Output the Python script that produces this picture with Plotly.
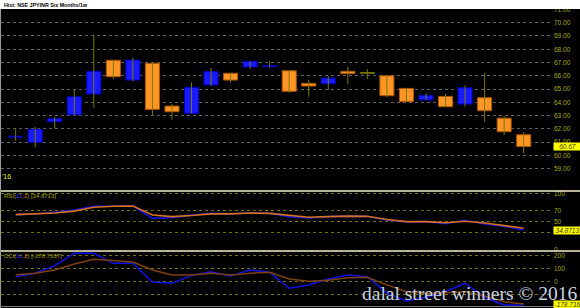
import plotly.graph_objects as go

# ---------------- data ----------------
idx = list(range(27))
opens = [61.38, 60.99, 62.54, 63.07, 64.63, 67.17, 65.68, 66.94, 63.72, 63.17, 65.31, 66.19, 66.66, 66.68,
         66.38, 65.43, 65.40, 66.34, 66.19, 66.00, 65.05, 64.18, 64.45, 63.87, 64.35, 62.81, 61.56]
highs = [62.07, 62.14, 62.89, 64.95, 69.05, 67.17, 67.36, 66.94, 63.87, 65.50, 66.59, 66.23, 67.09, 67.11,
         66.38, 65.68, 65.98, 66.68, 66.51, 66.00, 65.05, 64.65, 64.63, 65.28, 66.21, 62.97, 61.76]
lows = [61.10, 60.61, 62.04, 63.07, 63.60, 65.78, 65.60, 63.04, 62.69, 63.17, 65.25, 65.48, 66.53, 66.61,
        64.72, 64.42, 64.93, 65.38, 65.76, 64.40, 64.05, 64.18, 63.67, 63.67, 62.54, 61.54, 60.16]
closes = [61.45, 61.97, 62.77, 64.42, 66.34, 65.93, 67.19, 63.47, 63.29, 65.13, 66.31, 65.68, 67.09, 66.76,
          64.83, 65.23, 65.83, 66.16, 66.19, 64.50, 64.05, 64.53, 63.67, 65.10, 63.37, 61.79, 60.67]

rsi = [62.6, 63.8, 67, 71, 77.7, 77.7, 78.3, 56, 57, 62, 65, 64, 65.6, 65, 59, 56.6, 59, 60, 59.6,
       53, 49.4, 50, 46.3, 52.4, 45.8, 41.6, 34.87]
rsi_sig = [62.6, 63.8, 65.6, 69, 76, 77.7, 78.3, 62, 59, 61, 64, 64, 65.6, 65, 61, 58, 59, 60, 59.6,
           54, 50, 50, 48, 50.6, 47.5, 43.4, 38]
cci = [38, 65, 123, 218, 218, 141, 141, -3, -12, 48, 77, 44, 90, 72, -51, -25, 21, 52, 38,
       -90, -146, -120, -75, -12, -120, -179, -178.72]
cci_sig = [54, 65, 90, 136, 172, 159, 151, 90, 51, 51, 65, 51, 65, 72, 21, 3, 11, 30, 34,
           -25, -77, -90, -85, -77, -110, -154, -171]

price_ticks = [59, 60, 61, 62, 63, 64, 65, 66, 67, 68, 69, 70, 71]
rsi_ticks = [0, 30, 50, 70, 100]
rsi_labels = ["0", "", "50", "70", "100"]        # 30 is hidden behind the value box
cci_ticks = [-100, 0, 100, 200]
cci_labels = ["", "0", "100", "200"]             # -100 is hidden behind the watermark

title_text = "Hist: NSE JPYINR Six Months/1w"
watermark = "dalal street winners \u00a9 2016"

# ---------------- geometry helpers ----------------
W, H = 580, 308
ML, MR = 1, 27
PW = W - ML - MR


def py(p):
    return 1 - p / H


def px(p):
    return (p - ML) / PW


BLUE = "#1a1aff"
ORANGE = "#ff9526"
OLIVE = "#7a7a00"
LBL = "#a8a800"
FONT = "Liberation Sans, Arial, sans-serif"

body_base, body_h, body_col, body_line = [], [], [], []
for o, c in zip(opens, closes):
    body_base.append(min(o, c))
    body_h.append(max(abs(c - o), 0.05))
    if c > o:
        body_col.append(BLUE); body_line.append("#0000c0")
    elif c < o:
        body_col.append(ORANGE); body_line.append("#a85400")
    else:
        body_col.append(OLIVE); body_line.append(OLIVE)

wx, wy = [], []
for i, h, l in zip(idx, highs, lows):
    wx += [i, i, None]
    wy += [l, h, None]

fig = go.Figure()
fig.add_trace(go.Scatter(x=wx, y=wy, mode="lines", line=dict(color=OLIVE, width=1),
                         hoverinfo="skip", xaxis="x", yaxis="y"))
fig.add_trace(go.Bar(x=idx, y=body_h, base=body_base, width=0.72,
                     marker=dict(color=body_col, line=dict(color=body_line, width=1)),
                     xaxis="x", yaxis="y"))
fig.add_trace(go.Scatter(x=idx, y=rsi, mode="lines", line=dict(color="#1010e8", width=1.6),
                         xaxis="x", yaxis="y2"))
fig.add_trace(go.Scatter(x=idx, y=rsi_sig, mode="lines", line=dict(color="#d8701c", width=1.6),
                         xaxis="x", yaxis="y2"))
fig.add_trace(go.Scatter(x=idx, y=cci, mode="lines", line=dict(color="#1010e8", width=1.5),
                         xaxis="x", yaxis="y3"))
fig.add_trace(go.Scatter(x=idx, y=cci_sig, mode="lines", line=dict(color="#7e400e", width=1.5),
                         xaxis="x", yaxis="y3"))

axis_common = dict(side="right", anchor="x", showline=False, zeroline=False, ticks="",
                   tickfont=dict(family=FONT, size=6.5, color=LBL), griddash="dot",
                   gridwidth=1, fixedrange=True)

fig.update_layout(
    width=W, height=H,
    margin=dict(l=ML, r=MR, t=0, b=0, autoexpand=False),
    paper_bgcolor="black", plot_bgcolor="black",
    showlegend=False, hovermode=False,
    xaxis=dict(range=[-0.75, 27.5], visible=False, fixedrange=True),
    yaxis=dict(domain=[py(190), py(9)], range=[57.4, 71.03], tickvals=price_ticks,
               ticktext=[f"{v:.2f}" for v in price_ticks], gridcolor="#5e5e5e", **axis_common),
    yaxis2=dict(domain=[py(250), py(192)], range=[-1.3, 103.6], tickvals=rsi_ticks,
                ticktext=rsi_labels, gridcolor="#6e6e00", **axis_common),
    yaxis3=dict(domain=[py(306), py(252)], range=[-187, 228], tickvals=cci_ticks,
                ticktext=cci_labels, gridcolor="#6e6e00", **axis_common),
)

shapes = [
    dict(type="rect", xref="paper", yref="paper", x0=-0.01, x1=1.06, y0=py(9), y1=1.01,
         fillcolor="white", line=dict(width=0), layer="above"),
    dict(type="line", xref="paper", yref="paper", x0=-0.01, x1=1.06, y0=py(191), y1=py(191),
         line=dict(color="#f4f2c8", width=1.5), layer="above"),
    dict(type="line", xref="paper", yref="paper", x0=-0.01, x1=1.06, y0=py(251), y1=py(251),
         line=dict(color="#f4f2c8", width=1.5), layer="above"),
    dict(type="line", xref="paper", yref="paper", x0=px(0.5), x1=px(0.5), y0=0, y1=py(9),
         line=dict(color="#9a9a9a", width=1), layer="above"),
    dict(type="line", xref="paper", yref="paper", x0=-0.01, x1=1.06, y0=py(306.5), y1=py(306.5),
         line=dict(color="#7a7a7a", width=1.2), layer="above"),
]
fig.update_layout(shapes=shapes)

ann = [
    dict(text="<b>" + title_text + "</b>", xref="paper", yref="paper", x=px(2), y=py(4.5), xanchor="left",
         yanchor="middle", showarrow=False, font=dict(family=FONT, size=5.3, color="black")),
    dict(text="'16", xref="paper", yref="paper", x=px(0), y=py(176), xanchor="left",
         yanchor="middle", showarrow=False, font=dict(family=FONT, size=7, color="#e8e800")),
    dict(text="RSI(<span style='color:#3838ff'>11</span>,<span style='color:#d8701c'>2</span>) [34.8713]",
         xref="paper", yref="paper", x=px(2), y=py(195.5), xanchor="left", yanchor="middle",
         showarrow=False, font=dict(family=FONT, size=6, color=LBL)),
    dict(text="CCI(<span style='color:#3838ff'>11</span>,<span style='color:#d8701c'>2</span>) [-178.7167]",
         xref="paper", yref="paper", x=px(2), y=py(255.5), xanchor="left", yanchor="middle",
         showarrow=False, font=dict(family=FONT, size=6, color=LBL)),
    dict(text="<i>60.67</i>", xref="paper", yref="y", x=1.0, y=closes[-1], xanchor="left",
         yanchor="middle", showarrow=False, bgcolor="#ffff00", borderpad=0, width=27, align="center",
         font=dict(family=FONT, size=6.5, color="#333300")),
    dict(text="<i>34.8713</i>", xref="paper", yref="y2", x=1.0, y=rsi[-1], xanchor="left",
         yanchor="middle", showarrow=False, bgcolor="#ffff00", borderpad=0, width=27, align="center",
         font=dict(family=FONT, size=6.5, color="#333300")),
    dict(text="<i>-178.716</i>", xref="paper", yref="y3", x=1.0, y=cci[-1], xanchor="left",
         yanchor="middle", showarrow=False, bgcolor="#ffff00", borderpad=0, width=27, align="center",
         font=dict(family=FONT, size=6.5, color="#333300")),
    dict(text=watermark, xref="paper", yref="paper", x=px(579), y=py(293), xanchor="right",
         yanchor="middle", showarrow=False,
         font=dict(family="Liberation Serif, Times New Roman, serif", size=19.5, color="#c8d4e2")),
]
fig.update_layout(annotations=ann)

fig.write_html("out.html")
